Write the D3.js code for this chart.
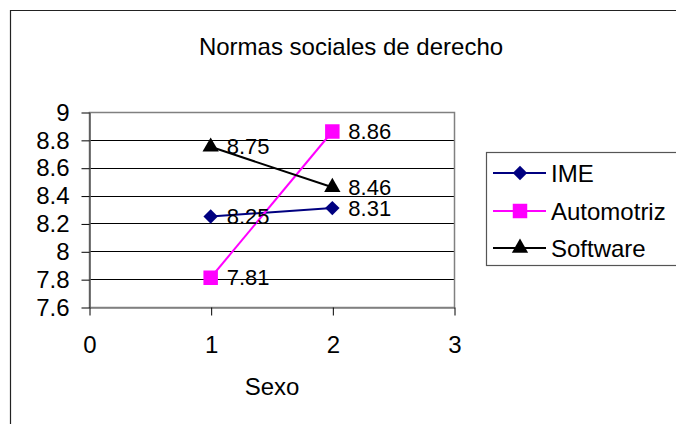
<!DOCTYPE html>
<html><head><meta charset="utf-8">
<script src="https://cdn.jsdelivr.net/npm/d3@7/dist/d3.min.js"></script>
<style>body{margin:0;background:#fff}svg{display:block}text{font-family:"Liberation Sans",Arial,sans-serif}</style>
</head><body>
<svg id="c" width="676" height="424"></svg>
<script>
const title = "Normas sociales de derecho";
const xTitle = "Sexo";
const xTicks = [0, 1, 2, 3];
const yTicks = [7.6, 7.8, 8, 8.2, 8.4, 8.6, 8.8, 9];
const sexo = [1, 2];
const seriesNames = ["IME", "Automotriz", "Software"];
const ime = [8.25, 8.31];
const automotriz = [7.81, 8.86];
const software = [8.75, 8.46];
const colors = ["#000080", "#FF00FF", "#000000"];

const svg = d3.select("#c");
const m = {l: 89, r: 454, t: 112, b: 307};
const x = d3.scaleLinear().domain([0, 3]).range([m.l, m.r]);
const y = d3.scaleLinear().domain([7.6, 9]).range([m.b, m.t]);
const FS = 24;
const FONT = "Liberation Sans, Arial, sans-serif";

// marker shapes
const diamond = d3.symbol().type(d3.symbolSquare).size(104);
const square = d3.symbol().type(d3.symbolSquare).size(210);
const triangle = d3.symbol().type(d3.symbolTriangle).size(115);
function marker(sel, si) {
  if (si === 0) sel.attr("d", diamond()).attr("transform", function () { return d3.select(this).attr("transform") + " rotate(45)"; });
  else if (si === 1) sel.attr("d", square());
  else sel.attr("d", triangle());
}

// outer border
svg.append("path").attr("d", "M10.5,430 V10.5 H690").attr("fill", "none").attr("stroke", "#222").attr("stroke-width", 1.2);

svg.append("text").attr("x", 351).attr("y", 55).attr("text-anchor", "middle").attr("font-size", FS).text(title);

// gridlines
svg.append("g").selectAll("line").data(yTicks.slice(1, -1)).join("line")
  .attr("x1", m.l).attr("x2", m.r).attr("y1", d => Math.round(y(d)) + 0.5).attr("y2", d => Math.round(y(d)) + 0.5)
  .attr("stroke", "#000").attr("stroke-width", 1);
// plot border
svg.append("rect").attr("x", m.l + 0.5).attr("y", m.t + 0.5).attr("width", m.r - m.l).attr("height", m.b - m.t)
  .attr("fill", "none").attr("stroke", "#808080").attr("stroke-width", 1.5);

// y axis
const ya = svg.append("g").attr("transform", `translate(${m.l + 0.5},0.5)`)
  .call(d3.axisLeft(y).tickValues(yTicks).tickFormat(d3.format("")).tickSize(8).tickPadding(12).tickSizeOuter(0));
ya.select(".domain").attr("stroke", "#555").attr("stroke-width", 1.5);
ya.selectAll(".tick line").attr("stroke", "#000");
ya.selectAll("text").attr("font-size", FS).attr("font-family", FONT).attr("fill", "#000");

// x axis
const xa = svg.append("g").attr("transform", `translate(0.5,${m.b + 0.5})`)
  .call(d3.axisBottom(x).tickValues(xTicks).tickFormat(d3.format("d")).tickSize(8).tickPadding(20).tickSizeOuter(0));
xa.select(".domain").attr("stroke", "#808080").attr("stroke-width", 1.5);
xa.selectAll(".tick line").attr("stroke", "#000");
xa.selectAll("text").attr("font-size", FS).attr("font-family", FONT).attr("fill", "#000");

svg.append("text").attr("x", 272).attr("y", 395).attr("text-anchor", "middle").attr("font-size", FS).text(xTitle);

const all = [ime, automotriz, software];
const line = d3.line().x((d, i) => x(sexo[i])).y(d => y(d));
all.forEach((vals, si) => {
  svg.append("path").attr("d", line(vals)).attr("fill", "none").attr("stroke", colors[si]).attr("stroke-width", 2);
});
all.forEach((vals, si) => {
  svg.append("g").selectAll("path").data(vals).join("path")
    .attr("transform", (d, i) => `translate(${x(sexo[i])},${y(d)})`)
    .attr("fill", colors[si])
    .call(marker, si);
});
all.forEach((vals, si) => {
  svg.append("g").selectAll("text").data(vals).join("text")
    .attr("x", (d, i) => x(sexo[i]) + 16).attr("y", d => y(d)).attr("dy", "0.34em")
    .attr("font-size", 22).text(d => d3.format(".2f")(d));
});

// legend
const lg = svg.append("g");
lg.append("rect").attr("x", 486.5).attr("y", 152.5).attr("width", 220).attr("height", 113)
  .attr("fill", "none").attr("stroke", "#555").attr("stroke-width", 1.2);
const rows = [173, 211, 248];
seriesNames.forEach((n, i) => {
  lg.append("line").attr("x1", 493).attr("x2", 546).attr("y1", rows[i]).attr("y2", rows[i]).attr("stroke", colors[i]).attr("stroke-width", 2);
  lg.append("path").attr("transform", `translate(520,${rows[i]})`).attr("fill", colors[i]).call(marker, i);
  lg.append("text").attr("x", 551).attr("y", rows[i]).attr("dy", "0.36em").attr("font-size", FS).text(n);
});
</script>
</body></html>
